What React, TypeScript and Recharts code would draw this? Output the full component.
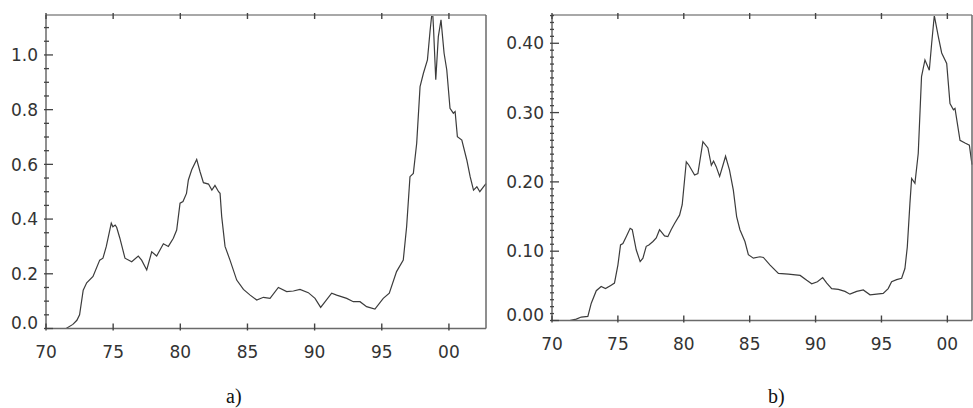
import React from "react";
import { LineChart, Line, XAxis, YAxis } from "recharts";

// panel a) readings (peak near 98.7 runs off the top of the frame)
const aYears = [
  70.0, 71.0, 71.5, 72.0, 72.3, 72.5, 72.77, 73.03, 73.5, 74.0, 74.24, 74.49, 74.86, 74.98, 75.15,
  75.26, 75.5, 75.88, 76.38, 76.87, 77.12, 77.5, 77.87, 78.24, 78.74, 79.11, 79.48, 79.73, 79.98,
  80.2, 80.46, 80.6, 80.85, 81.22, 81.47, 81.72, 82.1, 82.35, 82.58, 82.85, 82.96, 83.08, 83.33,
  83.7, 84.2, 84.7, 85.2, 85.69, 86.19, 86.68, 87.3, 87.92, 88.42, 88.91, 89.53, 90.03, 90.45,
  91.27, 91.64, 92.39, 92.88, 93.38, 93.87, 94.49, 95.11, 95.56, 96.1, 96.6, 96.85, 97.1, 97.35,
  97.6, 97.85, 98.1, 98.4, 98.6, 98.72, 98.8, 98.85, 99.02, 99.21, 99.41, 99.64, 99.84, 100.08,
  100.33, 100.46, 100.63, 100.96, 101.33, 101.58, 101.83, 102.08, 102.3, 102.57, 102.76,
];
const aValues = [
  0.0, 0.0, 0.0, 0.015, 0.03, 0.05, 0.14, 0.167, 0.19, 0.25, 0.257, 0.3, 0.385, 0.372, 0.378,
  0.37, 0.33, 0.257, 0.244, 0.265, 0.25, 0.214, 0.28, 0.265, 0.31, 0.3, 0.33, 0.36, 0.458,
  0.464, 0.494, 0.543, 0.58, 0.618, 0.573, 0.533, 0.528, 0.506, 0.523, 0.5, 0.494, 0.41, 0.3,
  0.25, 0.177, 0.143, 0.122, 0.104, 0.114, 0.11, 0.15, 0.135, 0.137, 0.143, 0.131, 0.11, 0.077,
  0.129, 0.122, 0.11, 0.098, 0.098, 0.08, 0.071, 0.11, 0.129, 0.208, 0.25, 0.372, 0.555, 0.567,
  0.677, 0.884, 0.933, 0.982, 1.09, 1.146, 1.146, 1.1, 0.909, 1.067, 1.128, 1.006, 0.945, 0.805,
  0.787, 0.793, 0.701, 0.689, 0.616, 0.555, 0.506, 0.518, 0.5, 0.518, 0.53,
];

// panel b) readings
const bYears = [
  70.0, 71.34, 71.84, 72.22, 72.72, 72.98, 73.36, 73.73, 74.06, 74.49, 74.74, 75.0, 75.2, 75.38,
  75.63, 75.93, 76.09, 76.39, 76.69, 76.9, 77.15, 77.35, 77.66, 77.91, 78.16, 78.54, 78.79, 79.04,
  79.3, 79.68, 79.88, 80.06, 80.19, 80.39, 80.82, 81.07, 81.45, 81.83, 82.09, 82.26, 82.46, 82.72,
  82.97, 83.17, 83.47, 83.76, 84.01, 84.26, 84.64, 84.9, 85.28, 85.78, 86.04, 86.55, 87.18, 87.94,
  88.83, 89.33, 89.71, 90.14, 90.54, 90.85, 91.22, 91.73, 92.23, 92.61, 93.12, 93.62, 94.13, 94.63,
  95.13, 95.51, 95.77, 96.15, 96.53, 96.78, 96.96, 97.16, 97.29, 97.54, 97.79, 98.04, 98.3, 98.63,
  98.81, 99.01, 99.31, 99.57, 99.95, 100.2, 100.46, 100.58, 100.96, 101.34, 101.67, 101.87,
];
const bValues = [
  0.0, 0.0, 0.002, 0.005, 0.006, 0.025, 0.043, 0.049, 0.046, 0.051, 0.054, 0.08, 0.109, 0.111,
  0.121, 0.133, 0.131, 0.102, 0.085, 0.09, 0.107, 0.109, 0.114, 0.119, 0.131, 0.122, 0.121, 0.131,
  0.14, 0.152, 0.167, 0.203, 0.229, 0.224, 0.21, 0.212, 0.258, 0.249, 0.224, 0.23, 0.222, 0.208,
  0.224, 0.237, 0.217, 0.188, 0.15, 0.131, 0.114, 0.095, 0.09, 0.092, 0.091, 0.08, 0.068, 0.067,
  0.065, 0.058, 0.053, 0.056, 0.062, 0.054, 0.046, 0.045, 0.042, 0.038, 0.042, 0.044, 0.037, 0.038,
  0.039, 0.046, 0.056, 0.059, 0.061, 0.075, 0.106, 0.169, 0.205, 0.198, 0.241, 0.352, 0.376, 0.361,
  0.4, 0.44, 0.41, 0.386, 0.371, 0.313, 0.304, 0.306, 0.26, 0.256, 0.253, 0.225,
];

const xTicks = [70, 75, 80, 85, 90, 95, 100];
const xLabels = ["70", "75", "80", "85", "90", "95", "00"];
const aMajor = [0, 0.2, 0.4, 0.6, 0.8, 1.0];
const bMajor = [0, 0.1, 0.2, 0.3, 0.4];

// minor tick positions (every 0.05 for a, every 0.01 for b)
const steps = (step: number, max: number) => {
  const out: number[] = [];
  for (let i = 0; i * step <= max + 1e-9; i++) out.push(Math.round(i * step * 1000) / 1000);
  return out;
};
const aTicks = steps(0.05, 1.1);
const bTicks = steps(0.01, 0.44);

const dataA = aYears.map((year, i) => ({ year, v: aValues[i] }));
const dataB = bYears.map((year, i) => ({ year, v: bValues[i] }));

const AXIS = "#6a6a6a";
const TICK = "#444";
const TEXT = "#333";
const FONT = "'DejaVu Sans', sans-serif";
const isMajor = (list: number[], v: number) => list.some((m) => Math.abs(m - v) < 1e-6);

// tick marks are drawn by hand, pointing into the frame (tickSize 0 -> x/y on the axis)
const bottomTick = (props: any) => {
  const { x, y, payload } = props;
  const i = xTicks.indexOf(payload.value);
  return (
    <g>
      <line x1={x} x2={x} y1={y} y2={y - 7} stroke={TICK} strokeWidth={1.4} />
      <text x={x} y={y + 27} textAnchor="middle" fontSize={17} fontFamily={FONT} fill={TEXT}>
        {xLabels[i]}
      </text>
    </g>
  );
};

const topTick = (props: any) => {
  const { x, y } = props;
  return <line x1={x} x2={x} y1={y} y2={y + 6} stroke={TICK} strokeWidth={1.4} />;
};

const leftTick = (major: number[], digits: number, minorLen: number) => (props: any) => {
  const { x, y, payload } = props;
  const m = isMajor(major, payload.value);
  return (
    <g>
      <line x1={x} x2={x + (m ? 9 : minorLen)} y1={y} y2={y} stroke={TICK} strokeWidth={1.3} />
      {m && (
        <text
          x={x - 6}
          y={payload.value === 0 ? y : y + 6.2}
          textAnchor="end"
          fontSize={17}
          fontFamily={FONT}
          fill={TEXT}
        >
          {payload.value.toFixed(digits)}
        </text>
      )}
    </g>
  );
};

const rightTick = (props: any) => {
  const { x, y } = props;
  return <line x1={x} x2={x - 7} y1={y} y2={y} stroke={TICK} strokeWidth={1.3} />;
};

function Panel({ data, left, width, yWidth, rWidth, xMax, yMax, yTicks, major, digits, minorLen, bottomH }: any) {
  return (
    <div style={{ position: "absolute", left, top: 0 }}>
      <LineChart width={width} height={408} data={data} margin={{ top: 10, right: 0, bottom: 0, left: 0 }}>
        <XAxis
          dataKey="year"
          type="number"
          domain={[70, xMax]}
          ticks={xTicks}
          interval={0}
          height={bottomH}
          tickSize={0}
          tickLine={false}
          axisLine={{ stroke: AXIS, strokeWidth: 1.5 }}
          tick={bottomTick}
        />
        <XAxis
          xAxisId="top"
          orientation="top"
          dataKey="year"
          type="number"
          domain={[70, xMax]}
          ticks={xTicks}
          interval={0}
          height={5}
          tickSize={0}
          tickLine={false}
          axisLine={{ stroke: "#a8a8a8", strokeWidth: 2 }}
          tick={topTick}
        />
        <YAxis
          type="number"
          domain={[0, yMax]}
          ticks={yTicks}
          interval={0}
          width={yWidth}
          tickSize={0}
          tickLine={false}
          axisLine={{ stroke: AXIS, strokeWidth: 1.5 }}
          tick={leftTick(major, digits, minorLen)}
        />
        <YAxis
          yAxisId="right"
          orientation="right"
          type="number"
          domain={[0, yMax]}
          ticks={yTicks}
          interval={0}
          width={rWidth}
          tickSize={0}
          tickLine={false}
          axisLine={{ stroke: AXIS, strokeWidth: 1.5 }}
          tick={rightTick}
        />
        <Line
          type="linear"
          dataKey="v"
          stroke="#3c3c3c"
          strokeWidth={1.2}
          dot={false}
          isAnimationActive={false}
        />
      </LineChart>
    </div>
  );
}

export default function App() {
  return (
    <div style={{ position: "absolute", left: 0, top: 0, width: 973, height: 408, background: "#fff", overflow: "hidden" }}>
      <Panel
        data={dataA}
        left={0}
        width={491}
        yWidth={46}
        rWidth={5}
        xMax={102.76}
        yMax={1.146}
        yTicks={aTicks}
        major={aMajor}
        digits={1}
        minorLen={5}
        bottomH={79.5}
      />
      <Panel
        data={dataB}
        left={500}
        width={473}
        yWidth={52}
        rWidth={1}
        xMax={101.87}
        yMax={0.4408}
        yTicks={bTicks}
        major={bMajor}
        digits={2}
        minorLen={4}
        bottomH={87.5}
      />
      <div style={{ position: "absolute", left: 226, top: 386, fontFamily: "'Liberation Serif', serif", fontSize: 20, lineHeight: "20px", color: "#111" }}>
        a)
      </div>
      <div style={{ position: "absolute", left: 768, top: 386, fontFamily: "'Liberation Serif', serif", fontSize: 20, lineHeight: "20px", color: "#111" }}>
        b)
      </div>
    </div>
  );
}
